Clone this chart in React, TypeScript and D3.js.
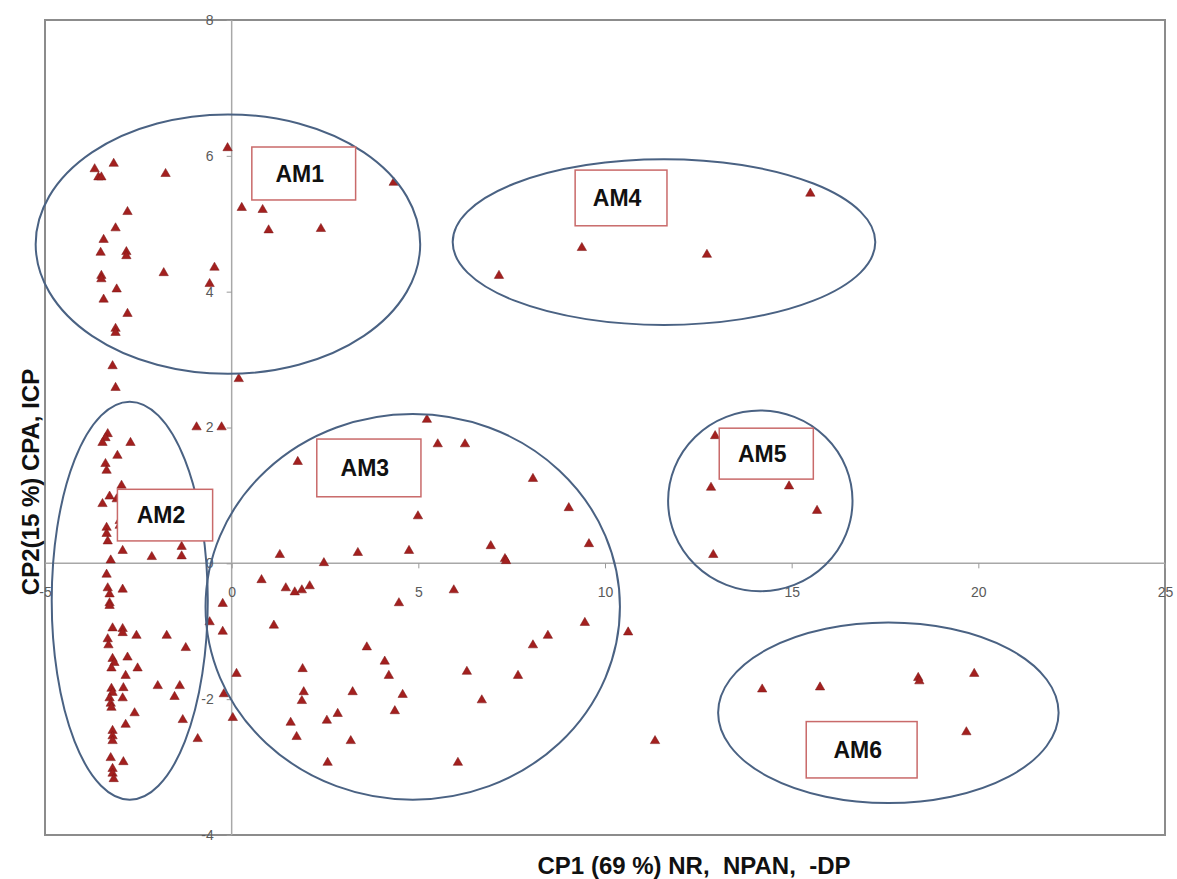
import React, { useEffect, useRef } from 'react';
import * as d3 from 'd3';

// scores, grouped by the cluster they fall in
const am1Points: [number, number][] = [
  [-0.11, 6.13], [-3.67, 5.82], [-3.16, 5.9], [-3.57, 5.7], [-3.49, 5.7], [-1.77, 5.75],
  [4.34, 5.62], [0.27, 5.25], [0.83, 5.22], [0.99, 4.92], [2.39, 4.94], [-2.79, 5.19],
  [-3.11, 4.95], [-3.43, 4.78], [-3.51, 4.59], [-2.82, 4.6], [-2.82, 4.54], [-1.82, 4.29],
  [-0.46, 4.37], [-0.59, 4.13], [-3.49, 4.25], [-3.49, 4.2], [-3.08, 4.05], [-3.43, 3.9],
  [-2.79, 3.69], [-3.11, 3.47], [-3.11, 3.41], [-3.19, 2.92], [-3.11, 2.6], [0.19, 2.73],
];

const am2Points: [number, number][] = [
  [-0.94, 2.02], [-0.27, 2.02], [-3.32, 1.92], [-3.38, 1.86], [-3.46, 1.79], [-2.71, 1.79],
  [-3.06, 1.6], [-3.38, 1.48], [-3.35, 1.38], [-2.95, 1.16], [-3.27, 1.0], [-3.46, 0.89],
  [-3.08, 0.96], [-3.0, 0.64], [-3.0, 0.57], [-3.35, 0.54], [-3.35, 0.45], [-3.32, 0.34],
  [-2.92, 0.2], [-2.14, 0.11], [-1.34, 0.26], [-1.34, 0.12], [-3.24, 0.06], [-3.35, -0.15],
  [-3.32, -0.35], [-2.92, -0.37], [-3.27, -0.44], [-3.27, -0.57], [-3.27, -0.61],
  [-3.19, -0.94], [-2.92, -0.95], [-2.92, -1.01], [-3.32, -1.1], [-3.3, -1.19], [-2.55, -1.05],
  [-1.74, -1.05], [-1.23, -1.23], [-3.19, -1.39], [-3.14, -1.45], [-3.22, -1.53], [-2.79, -1.37],
  [-2.52, -1.53], [-2.84, -1.64], [-3.22, -1.83], [-3.19, -1.89], [-3.27, -1.97], [-3.24, -2.05],
  [-3.22, -2.11], [-2.9, -1.82], [-2.92, -1.97], [-1.98, -1.79], [-1.39, -1.79], [-1.53, -1.95],
  [-2.6, -2.19], [-1.31, -2.29], [-2.84, -2.36], [-3.19, -2.45], [-3.19, -2.53], [-3.19, -2.6],
  [-0.91, -2.57], [-3.24, -2.85], [-2.9, -2.91], [-3.19, -3.01], [-3.19, -3.08], [-3.16, -3.16],
  [-0.24, -0.58], [-0.59, -0.85], [-0.24, -0.99], [0.13, -1.61], [-0.21, -1.91], [0.03, -2.26],
];

const am3Points: [number, number][] = [
  [5.23, 2.13], [5.52, 1.77], [6.25, 1.77], [1.77, 1.51], [8.07, 1.26], [9.03, 0.83],
  [4.99, 0.71], [9.57, 0.3], [6.94, 0.27], [7.32, 0.08], [7.35, 0.05], [1.29, 0.14],
  [3.38, 0.17], [4.75, 0.2], [2.47, 0.02], [0.8, -0.23], [1.45, -0.35], [1.69, -0.41],
  [1.88, -0.38], [2.09, -0.32], [5.95, -0.38], [4.48, -0.57], [1.13, -0.9], [3.62, -1.22],
  [4.1, -1.43], [4.21, -1.64], [1.9, -1.54], [1.93, -1.88], [1.88, -2.01], [3.24, -1.88],
  [4.58, -1.92], [4.37, -2.16], [2.84, -2.2], [2.55, -2.3], [1.58, -2.33], [1.74, -2.54],
  [3.19, -2.6], [2.57, -2.92], [6.3, -1.58], [6.7, -2.0], [7.67, -1.64], [6.06, -2.92],
  [8.07, -1.19], [8.47, -1.05], [9.46, -0.86], [10.62, -1.0], [11.34, -2.6],
];

const am4Points: [number, number][] = [[7.16, 4.25], [9.38, 4.66], [12.73, 4.56], [15.5, 5.46]];

const am5Points: [number, number][] = [[12.95, 1.89], [12.84, 1.13], [14.93, 1.15], [15.68, 0.79], [12.9, 0.14]];

const am6Points: [number, number][] = [
  [14.21, -1.84], [15.76, -1.81], [18.39, -1.67], [18.42, -1.72], [19.89, -1.61], [19.68, -2.47],
];

const xTicks = [-5, 0, 5, 10, 15, 20, 25];
const yTicks = [-4, -2, 0, 2, 4, 6, 8];

// cluster ellipses: centre and radii in score units
const clusterNames = ['AM1', 'AM2', 'AM3', 'AM4', 'AM5', 'AM6'];
const clusterCx = [-0.1, -2.73, 4.85, 11.58, 14.16, 17.59];
const clusterCy = [4.7, -0.55, -0.64, 4.73, 0.92, -2.2];
const clusterRx = [5.15, 2.09, 5.55, 5.66, 2.47, 4.56];
const clusterRy = [1.91, 2.93, 2.84, 1.22, 1.33, 1.33];

// label boxes: [x0, x1, yTop, yBottom] in score units
const labelBoxes: [number, number, number, number][] = [
  [0.54, 3.32, 6.13, 5.35],
  [-3.06, -0.51, 1.09, 0.33],
  [2.28, 5.07, 1.83, 0.98],
  [9.2, 11.66, 5.79, 4.97],
  [13.06, 15.58, 1.99, 1.24],
  [15.39, 18.36, -2.33, -3.16],
];

const W = 1177;
const H = 879;
const margin = { top: 20, right: 12, bottom: 44, left: 45 };

const App = () => {
  const xAxisRef = useRef<SVGGElement>(null);
  const yAxisRef = useRef<SVGGElement>(null);

  const x = d3.scaleLinear().domain([-5, 25]).range([margin.left, W - margin.right]);
  const y = d3.scaleLinear().domain([-4, 8]).range([H - margin.bottom, margin.top]);

  const tri = d3.symbol().type(d3.symbolTriangle).size(38)();
  const allPoints = [...am1Points, ...am2Points, ...am3Points, ...am4Points, ...am5Points, ...am6Points];

  useEffect(() => {
    const gx = d3.select(xAxisRef.current);
    gx.selectAll('*').remove();
    gx.call(d3.axisBottom(x).tickValues(xTicks).tickSize(5).tickPadding(19).tickFormat(d3.format('d')) as any);
    gx.select('.domain').remove();
    gx.selectAll('line').attr('stroke', '#9a9a9a');
    gx.selectAll('text')
      .attr('fill', '#5a5a5a')
      .style('font-size', '14px')
      .style('font-family', '"Liberation Sans", Arial, sans-serif')
      .text((d: any) => String(d));

    const gy = d3.select(yAxisRef.current);
    gy.selectAll('*').remove();
    gy.call(d3.axisLeft(y).tickValues(yTicks).tickSize(5).tickPadding(13) as any);
    gy.select('.domain').remove();
    gy.selectAll('line').attr('stroke', '#9a9a9a');
    gy.selectAll('text')
      .attr('fill', '#5a5a5a')
      .style('font-size', '14px')
      .style('font-family', '"Liberation Sans", Arial, sans-serif')
      .text((d: any) => String(d));
  }, []);

  const [x0, x1] = x.range();
  const [y0, y1] = y.range();

  return (
    <svg width={W} height={H} style={{ position: 'absolute', left: 0, top: 0, background: '#fff' }}>
      {/* frame */}
      <rect x={x0} y={y1} width={x1 - x0} height={y0 - y1} fill="none" stroke="#8c8c8c" strokeWidth={2} />
      {/* zero lines */}
      <line x1={x0} x2={x1} y1={y(0)} y2={y(0)} stroke="#a8a8a8" strokeWidth={1.5} />
      <line x1={x(0)} x2={x(0)} y1={y1} y2={y0} stroke="#a8a8a8" strokeWidth={1.5} />
      <g ref={xAxisRef} transform={`translate(0,${y(0)})`} />
      <g ref={yAxisRef} transform={`translate(${x(0)},0)`} />

      {/* points */}
      {allPoints.map((p, i) => (
        <path key={i} d={tri as string} transform={`translate(${x(p[0])},${y(p[1]) + 1})`}
          fill="#a3201f" stroke="#7a1515" strokeWidth={0.5} />
      ))}

      {/* cluster ellipses */}
      {clusterNames.map((n, i) => (
        <ellipse key={n} cx={x(clusterCx[i])} cy={y(clusterCy[i])}
          rx={x(clusterCx[i] + clusterRx[i]) - x(clusterCx[i])}
          ry={y(clusterCy[i]) - y(clusterCy[i] + clusterRy[i])}
          fill="none" stroke="#4a6283" strokeWidth={2} />
      ))}

      {/* labels */}
      {clusterNames.map((n, i) => {
        const b = labelBoxes[i];
        const bx = x(b[0]);
        const by = y(b[2]);
        const bw = x(b[1]) - bx;
        const bh = y(b[3]) - by;
        return (
          <g key={n}>
            <rect x={bx} y={by} width={bw} height={bh} fill="#fff" stroke="#c96a6a" strokeWidth={1.5} />
            <text x={bx + bw / 2 - 4} y={by + bh / 2} dy="0.36em" textAnchor="middle"
              style={{ font: 'bold 23px "Liberation Sans", Arial, sans-serif' }} fill="#111">{n}</text>
          </g>
        );
      })}

      {/* axis titles */}
      <text x={694} y={874} textAnchor="middle"
        style={{ font: 'bold 24px "Liberation Sans", Arial, sans-serif' }} fill="#111">
        {'CP1 (69 %) NR,\u00a0\u00a0NPAN,\u00a0\u00a0-DP'}
      </text>
      <text transform={`translate(39,${482}) rotate(-90)`} textAnchor="middle"
        style={{ font: 'bold 24px "Liberation Sans", Arial, sans-serif' }} fill="#111">
        CP2(15 %) CPA, ICP
      </text>
    </svg>
  );
};

export default App;
